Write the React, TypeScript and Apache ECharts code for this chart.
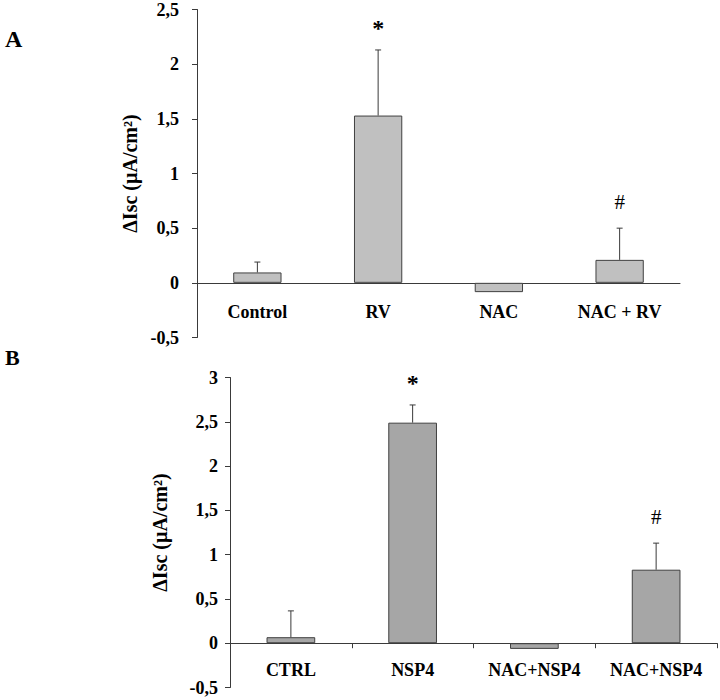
import React, { useEffect, useRef } from "react";
import * as echarts from "echarts";

const catsA = ["Control", "RV", "NAC", "NAC + RV"];
const valsA = [0.095, 1.53, -0.085, 0.21];
const errA = [0.095, 0.6, 0, 0.29];
const marksA = ["", "*", "", "#"];

const catsB = ["CTRL", "NSP4", "NAC+NSP4", "NAC+NSP4"];
const valsB = [0.068, 2.49, -0.064, 0.83];
const errB = [0.297, 0.2, 0, 0.3];
const marksB = ["", "*", "", "#"];

const yMinA = -0.5;
const yMaxA = 2.5;
const yMinB = -0.5;
const yMaxB = 3;
const yStep = 0.5;

const yName = "ΔIsc (µA/cm²)";

const FONT = "'Liberation Serif', 'Times New Roman', serif";
const AXIS_COLOR = "#3a3a3a";

function errSeries(idx: number, vals: number[], errs: number[], marks: string[]) {
  return {
    type: "custom",
    xAxisIndex: idx,
    yAxisIndex: idx,
    z: 5,
    encode: { x: 0, y: 1 },
    data: vals.map((v, i) => [i, v, errs[i]]),
    renderItem: (params: any, api: any) => {
      const i = api.value(0);
      const v = api.value(1);
      const e = api.value(2);
      const p0 = api.coord([i, v]);
      const p1 = api.coord([i, v + e]);
      const children: any[] = [];
      if (e > 0) {
        children.push({
          type: "line",
          shape: { x1: p0[0], y1: p0[1], x2: p1[0], y2: p1[1] },
          style: { stroke: AXIS_COLOR, lineWidth: 1 },
        });
        children.push({
          type: "line",
          shape: { x1: p1[0] - 3, y1: p1[1], x2: p1[0] + 3, y2: p1[1] },
          style: { stroke: AXIS_COLOR, lineWidth: 1 },
        });
      }
      const m = marks[params.dataIndex];
      if (m) {
        const isStar = m === "*";
        children.push({
          type: "text",
          x: p1[0],
          y: p1[1] - (isStar ? 22 : 26),
          style: {
            text: m,
            fontFamily: FONT,
            fontSize: isStar ? 24 : 21,
            fontWeight: isStar ? "bold" : "normal",
            fill: "#000",
            align: "center",
            verticalAlign: "middle",
          },
        });
      }
      return { type: "group", children };
    },
  };
}

function yAxisCfg(idx: number, min: number, max: number, gap: number, margin: number) {
  return {
    type: "value",
    gridIndex: idx,
    min,
    max,
    interval: yStep,
    name: yName,
    nameLocation: "middle",
    nameRotate: 90,
    nameGap: gap,
    nameTextStyle: { fontFamily: FONT, fontSize: 20, fontWeight: "bold", color: "#000" },
    axisLine: { show: true, lineStyle: { color: AXIS_COLOR, width: 1 } },
    axisTick: { show: true, length: 5, lineStyle: { color: AXIS_COLOR } },
    splitLine: { show: false },
    axisLabel: {
      fontFamily: FONT,
      fontSize: 18,
      fontWeight: "bold",
      color: "#000",
      margin,
      formatter: (v: number) => String(v).replace(".", ","),
    },
  };
}

function xAxisCfg(idx: number, cats: string[], ticks: boolean, margin: number) {
  return {
    type: "category",
    gridIndex: idx,
    data: cats,
    boundaryGap: true,
    axisLine: { show: true, onZero: true, lineStyle: { color: AXIS_COLOR, width: 1 } },
    axisTick: { show: ticks, length: 5, alignWithLabel: false, lineStyle: { color: AXIS_COLOR } },
    axisLabel: {
      fontFamily: FONT,
      fontSize: 18,
      fontWeight: "bold",
      color: "#000",
      margin,
      interval: 0,
    },
  };
}

export default function App() {
  const ref = useRef<HTMLDivElement>(null);
  useEffect(() => {
    if (!ref.current) return;
    const chart = echarts.init(ref.current, null, { renderer: "svg" });
    chart.setOption({
      animation: false,
      backgroundColor: "#fff",
      grid: [
        { left: 197, top: 9.5, right: 40, height: 328, outerBoundsMode: "none", containLabel: false },
        { left: 230, top: 377.5, right: 3, height: 310, outerBoundsMode: "none", containLabel: false },
      ],
      xAxis: [xAxisCfg(0, catsA, false, -35), xAxisCfg(1, catsB, true, -27)],
      yAxis: [yAxisCfg(0, yMinA, yMaxA, 57, 18), yAxisCfg(1, yMinB, yMaxB, 60, 12)],
      graphic: [
        {
          type: "text",
          left: 5,
          top: 27,
          style: { text: "A", fontFamily: FONT, fontSize: 24, fontWeight: "bold", fill: "#000" },
        },
        {
          type: "text",
          left: 5,
          top: 346,
          style: { text: "B", fontFamily: FONT, fontSize: 22, fontWeight: "bold", fill: "#000" },
        },
      ],
      series: [
        {
          type: "bar",
          xAxisIndex: 0,
          yAxisIndex: 0,
          data: valsA,
          barWidth: "40%",
          itemStyle: { color: "#c0c0c0", borderColor: "#404040", borderWidth: 1 },
        },
        errSeries(0, valsA, errA, marksA),
        {
          type: "bar",
          xAxisIndex: 1,
          yAxisIndex: 1,
          data: valsB,
          barWidth: "40%",
          itemStyle: { color: "#a6a6a6", borderColor: "#404040", borderWidth: 1 },
        },
        errSeries(1, valsB, errB, marksB),
      ],
    });
    return () => chart.dispose();
  }, []);
  return (
    <div
      ref={ref}
      style={{ position: "fixed", left: 0, top: 0, width: 720, height: 700, background: "#fff" }}
    />
  );
}
